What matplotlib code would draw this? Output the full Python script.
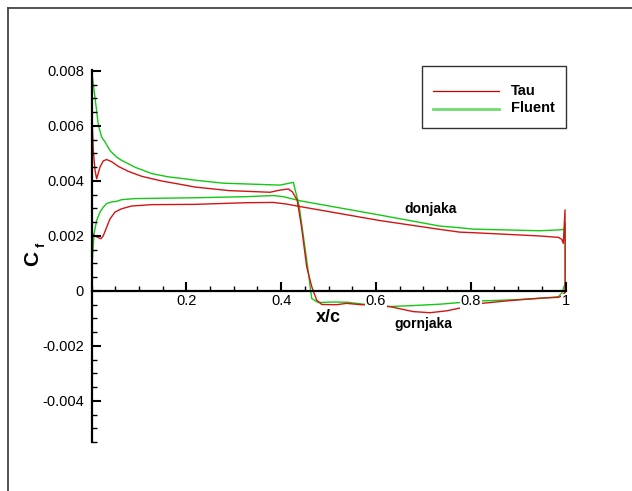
import matplotlib
matplotlib.use('Agg')
import matplotlib.pyplot as plt
from matplotlib.patches import Rectangle
from matplotlib.lines import Line2D
from matplotlib.ticker import MultipleLocator

plt.rcParams['font.family'] = ['Liberation Sans', 'DejaVu Sans']

# ---------------- data ----------------
# Tau, upper surface ("gornjaka"), LE -> TE
tau_upper_x = [0.0, 0.0038, 0.0074, 0.0109, 0.018, 0.0249, 0.032, 0.0426, 0.0566, 0.0777,
               0.106, 0.148, 0.187, 0.218, 0.29, 0.3766, 0.398, 0.4152, 0.424, 0.434, 0.443,
               0.454, 0.4646, 0.475, 0.4857, 0.517, 0.538, 0.57, 0.60, 0.63, 0.679, 0.714,
               0.75, 0.777, 0.823, 0.876, 0.946, 0.985, 0.992, 0.999]
tau_upper_cf = [0.0068, 0.0051, 0.00439, 0.00408, 0.00451, 0.00473, 0.00478, 0.00470, 0.00453,
                0.00435, 0.00417, 0.00400, 0.00388, 0.00378, 0.00365, 0.00359, 0.00367, 0.00371,
                0.00360, 0.00330, 0.00234, 0.00088, 0.00016, -0.00033, -0.00049, -0.00050,
                -0.00045, -0.00050, -0.00050, -0.00057, -0.00075, -0.00079, -0.00072, -0.00062,
                -0.00045, -0.00036, -0.00026, -0.00023, -0.00018, -0.00005]
# Tau, lower surface ("donjaka"), LE -> TE
tau_lower_x = [0.0, 0.0018, 0.0074, 0.0144, 0.02, 0.0249, 0.032, 0.039, 0.0496, 0.0636, 0.0847,
               0.127, 0.218, 0.327, 0.3836, 0.4118, 0.4399, 0.6087, 0.735, 0.777, 0.805, 0.876,
               0.946, 0.985, 0.992, 0.9954, 0.999]
tau_lower_cf = [0.0, 0.00208, 0.00200, 0.00194, 0.00190, 0.00201, 0.00232, 0.00262, 0.00287,
                0.00299, 0.00309, 0.00314, 0.00315, 0.00321, 0.00322, 0.00316, 0.00307, 0.00256,
                0.00224, 0.00214, 0.00212, 0.00206, 0.00200, 0.00195, 0.00188, 0.00173, 0.00295]

# Fluent, upper surface, LE -> TE
fluent_upper_x = [0.0, 0.0003, 0.0074, 0.0144, 0.0214, 0.0285, 0.039, 0.046, 0.053, 0.0636,
                  0.0918, 0.127, 0.162, 0.187, 0.218, 0.278, 0.3977, 0.4258, 0.438, 0.454,
                  0.4646, 0.478, 0.51, 0.54, 0.573, 0.623, 0.679, 0.735, 0.777, 0.823, 0.876,
                  0.946, 0.985, 0.992, 0.997, 1.0]
fluent_upper_cf = [0.00805, 0.0080, 0.00703, 0.00604, 0.00560, 0.00542, 0.00511, 0.00498,
                   0.00487, 0.00475, 0.00450, 0.00427, 0.00415, 0.00410, 0.00403, 0.00392,
                   0.00385, 0.00395, 0.00310, 0.00113, -0.00027, -0.00042, -0.00040, -0.00041,
                   -0.00048, -0.00057, -0.00053, -0.00048, -0.00042, -0.00036, -0.00033,
                   -0.00027, -0.00021, -0.00008, 0.00016, 0.0003]
# Fluent, lower surface, LE -> TE
fluent_lower_x = [0.0, 0.0018, 0.0053, 0.0109, 0.018, 0.0249, 0.032, 0.0426, 0.053, 0.0636,
                  0.0918, 0.218, 0.327, 0.3836, 0.4047, 0.4399, 0.6087, 0.735, 0.777, 0.805,
                  0.876, 0.946, 0.985, 0.997, 1.0]
fluent_lower_cf = [0.0, 0.00112, 0.00208, 0.00257, 0.00287, 0.00305, 0.00318, 0.00324, 0.00326,
                   0.00332, 0.00336, 0.00339, 0.00343, 0.00347, 0.00343, 0.00328, 0.00276,
                   0.00236, 0.00230, 0.00225, 0.00222, 0.00219, 0.00222, 0.00224, 0.00246]

series_names = ['Tau', 'Fluent']
y_tick_values = [-0.004, -0.002, 0.0, 0.002, 0.004, 0.006, 0.008]
y_tick_labels = ['-0.004', '-0.002', '0', '0.002', '0.004', '0.006', '0.008']
x_tick_values = [0.2, 0.4, 0.6, 0.8, 1.0]
x_tick_labels = ['0.2', '0.4', '0.6', '0.8', '1']

# ---------------- figure ----------------
W, H = 632, 491
fig = plt.figure(figsize=(W / 100, H / 100), dpi=100)


def fx(px):
    return px / W


def fy(py):
    return 1 - py / H


ax_left, ax_right, ax_top, ax_bottom = 91.5, 565.5, 69.6, 442.25
ax = fig.add_axes([fx(ax_left), fy(ax_bottom), (ax_right - ax_left) / W, (ax_bottom - ax_top) / H])
ax.set_xlim(0, 1)
ax.set_ylim(-0.0055, 0.00805)

RED = '#d41414'
GREEN = '#14c814'


def loop(ux, uy, lx, ly):
    # closed path around the airfoil: upper TE -> LE -> lower TE -> back to upper TE
    xs = ux[::-1] + lx + [ux[-1]]
    ys = uy[::-1] + ly + [uy[-1]]
    return xs, ys


tx, ty = loop(tau_upper_x, tau_upper_cf, tau_lower_x, tau_lower_cf)
gx, gy = loop(fluent_upper_x, fluent_upper_cf, fluent_lower_x, fluent_lower_cf)
ax.plot(gx, gy, color=GREEN, lw=1.0, zorder=2)
ax.plot(tx, ty, color=RED, lw=1.0, zorder=2.1)

for s in ['top', 'right']:
    ax.spines[s].set_visible(False)
ax.spines['bottom'].set_position(('data', 0))
ax.spines['left'].set_linewidth(1.6)
ax.spines['bottom'].set_linewidth(1.6)
ax.set_axisbelow(False)

ax.set_xticks(x_tick_values)
ax.set_xticklabels(x_tick_labels)
ax.xaxis.set_minor_locator(MultipleLocator(0.05))
ax.set_yticks(y_tick_values)
ax.set_yticklabels(y_tick_labels)
ax.yaxis.set_minor_locator(MultipleLocator(0.0005))

ax.tick_params(axis='x', which='major', direction='in', length=6.5, width=1.5, pad=2.5, labelsize=10.5)
ax.tick_params(axis='x', which='minor', direction='in', length=3.5, width=1.0)
ax.tick_params(axis='y', which='major', direction='in', length=6.5, width=1.5, pad=5.5, labelsize=10.5)
ax.tick_params(axis='y', which='minor', direction='in', length=3.5, width=1.0)
for lab in ax.get_xticklabels():
    lab.set_bbox(dict(facecolor='white', edgecolor='none', pad=0.6))

# annotations
ax.text(0.716, 0.00298, 'donjaka', ha='center', va='center', fontsize=10, fontweight='bold')
ax.text(0.699, -0.0012, 'gornjaka', ha='center', va='center', fontsize=10, fontweight='bold')

# axis titles
fig.text(fx(328), fy(317), 'x/c', ha='center', va='center', fontsize=13, fontweight='bold')
fig.text(fx(33), fy(258), 'C', ha='center', va='center', fontsize=15, fontweight='bold', rotation=90)
fig.text(fx(41.5), fy(245), 'f', ha='center', va='center', fontsize=9, fontweight='bold', rotation=90)

# legend (drawn by hand to match Tecplot style)
fig.add_artist(Rectangle((fx(421.7), fy(128)), (566 - 421.7) / W, (128 - 66.5) / H,
                         transform=fig.transFigure, fill=False, edgecolor='#333333', lw=1.0))
fig.add_artist(Line2D([fx(433), fx(499)], [fy(91), fy(91)], color='#c80000', lw=0.9,
                      transform=fig.transFigure))
fig.add_artist(Line2D([fx(433), fx(499)], [fy(108.5), fy(108.5)], color='#70dc70', lw=2.0,
                      transform=fig.transFigure))
fig.text(fx(511), fy(91), series_names[0], ha='left', va='center', fontsize=10.5, fontweight='bold')
fig.text(fx(511), fy(108.5), series_names[1], ha='left', va='center', fontsize=10.5, fontweight='bold')

# outer frame (extends beyond right and bottom edge)
fig.add_artist(Line2D([fx(8), fx(8)], [0, fy(8)], color='#444444', lw=1.3, transform=fig.transFigure))
fig.add_artist(Line2D([fx(8), 1], [fy(8), fy(8)], color='#444444', lw=1.3, transform=fig.transFigure))

fig.savefig('out.png', dpi=100)
